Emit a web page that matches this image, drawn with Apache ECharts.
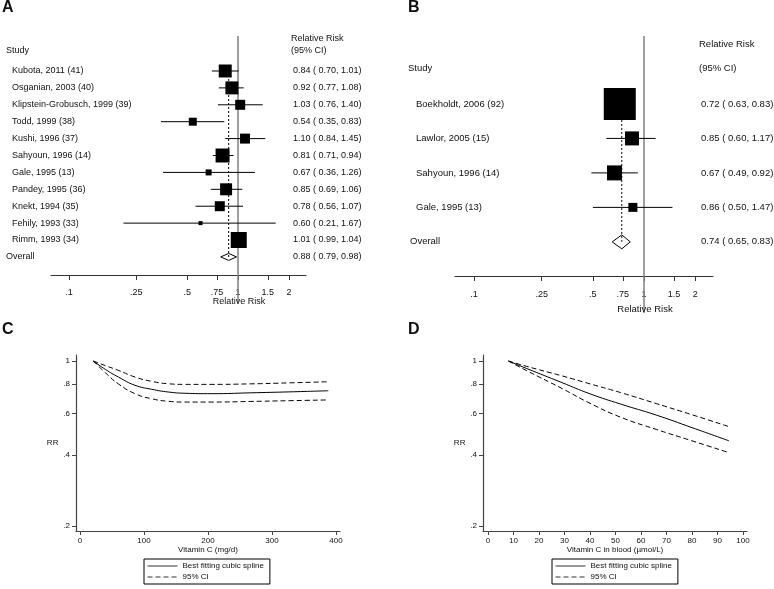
<!DOCTYPE html>
<html>
<head>
<meta charset="utf-8">
</head>
<body style="margin: 0; background: #fff">
<div id="container" style="width: 774px; height: 589px"></div>
<script src="https://cdn.jsdelivr.net/npm/echarts@6/dist/echarts.min.js"></script>
<script>
// A: dietary vitamin C, prospective studies
var studiesA = ['Kubota, 2011 (41)', 'Osganian, 2003 (40)', 'Klipstein-Grobusch, 1999 (39)', 'Todd, 1999 (38)',
    'Kushi, 1996 (37)', 'Sahyoun, 1996 (14)', 'Gale, 1995 (13)', 'Pandey, 1995 (36)', 'Knekt, 1994 (35)',
    'Fehily, 1993 (33)', 'Rimm, 1993 (34)'];
var rrA = [0.84, 0.92, 1.03, 0.54, 1.10, 0.81, 0.67, 0.85, 0.78, 0.60, 1.01];
var loA = [0.70, 0.77, 0.76, 0.35, 0.84, 0.71, 0.36, 0.69, 0.56, 0.21, 0.99];
var hiA = [1.01, 1.08, 1.40, 0.83, 1.45, 0.94, 1.26, 1.06, 1.07, 1.67, 1.04];
var weightA = [12.5, 12.5, 7.4, 4.7, 7.4, 14.5, 2.7, 10.7, 7.4, 1.2, 19.0];
var overallA = [0.88, 0.79, 0.98];

// B: circulating vitamin C
var studiesB = ['Boekholdt, 2006 (92)', 'Lawlor, 2005 (15)', 'Sahyoun, 1996 (14)', 'Gale, 1995 (13)'];
var rrB = [0.72, 0.85, 0.67, 0.86];
var loB = [0.63, 0.60, 0.49, 0.50];
var hiB = [0.83, 1.17, 0.92, 1.47];
var weightB = [67.1, 12.8, 14.7, 5.3];
var overallB = [0.74, 0.65, 0.83];

var rrTicks = [0.1, 0.25, 0.5, 0.75, 1, 1.5, 2];
var rrTickLabels = ['.1', '.25', '.5', '.75', '1', '1.5', '2'];

// C: dose response, intake
var doseC = [20.8, 40, 60, 86, 112, 138, 164, 206, 266, 328, 388];
var splineC = [1, 0.92, 0.855, 0.789, 0.759, 0.739, 0.730, 0.727, 0.733, 0.740, 0.748];
var upperC = [1, 0.955, 0.913, 0.855, 0.820, 0.801, 0.796, 0.796, 0.800, 0.808, 0.817];
var lowerC = [1, 0.89, 0.80, 0.727, 0.692, 0.675, 0.670, 0.670, 0.674, 0.679, 0.684];
var doseTicksC = [0, 100, 200, 300, 400];

// D: dose response, blood level
var doseD = [8, 15, 29, 40, 52, 66, 80, 94.5];
var splineD = [1, 0.931, 0.81, 0.726, 0.657, 0.59, 0.522, 0.459];
var upperD = [1, 0.95, 0.865, 0.80, 0.735, 0.66, 0.592, 0.527];
var lowerD = [1, 0.912, 0.765, 0.662, 0.578, 0.513, 0.459, 0.409];
var doseTicksD = [0, 10, 20, 30, 40, 50, 60, 70, 80, 90, 100];

var rrAxisTicks = [0.2, 0.4, 0.6, 0.8, 1];
var rrAxisLabels = ['.2', '.4', '.6', '.8', '1'];

var FONT = '"Liberation Sans", Arial, sans-serif';

function pickLabel(ticks, labels) {
    return function (v) {
        var best = 0;
        for (var i = 1; i < ticks.length; i++) {
            if (Math.abs(ticks[i] - v) < Math.abs(ticks[best] - v)) best = i;
        }
        return labels[best];
    };
}

function rrText(est, lo, hi) {
    return est.toFixed(2) + ' ( ' + lo.toFixed(2) + ', ' + hi.toFixed(2) + ')';
}

function txt(x, y, s, font, align) {
    return {type: 'text', x: x, y: y, silent: true,
        style: {text: s, font: font, fill: '#111', align: align || 'left', verticalAlign: 'middle',
            textAlign: align || 'left', textVerticalAlign: 'middle'}};
}

// builds the series of one forest plot
function forestSeries(p) {
    var n = p.names.length;
    var rows = p.names.map(function (name, i) {
        return [p.rr[i], i, p.lo[i], p.hi[i], p.w[i]];
    });
    var font = p.fontSize + 'px ' + FONT;
    return [
        {
            type: 'custom', xAxisIndex: p.axis, yAxisIndex: p.axis, clip: false, silent: true,
            data: [[1, p.lineTop, p.lineBottom]],
            renderItem: function (params, api) {
                var a = api.coord([1, api.value(1)]);
                var b = api.coord([1, api.value(2)]);
                return {type: 'group', children: [
                    {type: 'line', shape: {x1: a[0], y1: a[1], x2: b[0], y2: b[1]},
                        style: {stroke: '#808080', lineWidth: 1.5}},
                    txt(a[0] + 1, p.titleY, 'Relative Risk', font, 'center')
                ]};
            }
        },
        {
            type: 'custom', xAxisIndex: p.axis, yAxisIndex: p.axis, clip: false, silent: true,
            data: [[p.overall[0], n, p.overall[1], p.overall[2]]],
            renderItem: function (params, api) {
                var c = api.coord([api.value(0), api.value(1)]);
                var top = api.coord([api.value(0), 0]);
                var l = api.coord([api.value(2), api.value(1)]);
                var h = api.coord([api.value(3), api.value(1)]);
                var d = p.diamondH;
                return {type: 'group', children: [
                    {type: 'line', shape: {x1: top[0], y1: top[1], x2: c[0], y2: c[1]},
                        style: {stroke: '#000', lineWidth: 1, lineDash: [2, 2]}},
                    {type: 'polygon', shape: {points: [[l[0], c[1]], [c[0], c[1] - d], [h[0], c[1]], [c[0], c[1] + d]]},
                        style: {fill: 'rgba(255,255,255,0)', stroke: '#000', lineWidth: 1}},
                    txt(p.overallX, c[1], 'Overall', font),
                    txt(p.rrX, c[1], rrText(p.overall[0], p.overall[1], p.overall[2]), font)
                ]};
            }
        },
        {
            type: 'custom', xAxisIndex: p.axis, yAxisIndex: p.axis, clip: false, silent: true,
            data: rows,
            renderItem: function (params, api) {
                var i = api.value(1);
                var c = api.coord([api.value(0), i]);
                var l = api.coord([api.value(2), i]);
                var h = api.coord([api.value(3), i]);
                var s = Math.sqrt(api.value(4)) * p.boxScale;
                return {type: 'group', children: [
                    {type: 'line', shape: {x1: l[0], y1: l[1], x2: h[0], y2: h[1]},
                        style: {stroke: '#000', lineWidth: 1}},
                    {type: 'rect', shape: {x: c[0] - s / 2, y: c[1] - s / 2, width: s, height: s},
                        style: {fill: '#000'}},
                    txt(p.nameX, c[1], p.names[i], font),
                    txt(p.rrX, c[1], rrText(api.value(0), api.value(2), api.value(3)), font)
                ]};
            }
        }
    ];
}

function forestXAxis(grid, min, max, margin) {
    return {
        type: 'log', gridIndex: grid, min: min, max: max,
        axisLine: {show: true, onZero: false, lineStyle: {color: '#333', width: 1}},
        axisTick: {show: true, customValues: rrTicks, length: 5, lineStyle: {color: '#333'}},
        axisLabel: {customValues: rrTicks, margin: margin, fontSize: 9, color: '#111', fontFamily: FONT,
            formatter: pickLabel(rrTicks, rrTickLabels)},
        splitLine: {show: false}
    };
}

function doseXAxis(grid, min, max, ticks, name) {
    return {
        type: 'value', gridIndex: grid, min: min, max: max,
        name: name, nameLocation: 'middle', nameGap: 14,
        nameTextStyle: {fontSize: 8, color: '#111', fontFamily: FONT},
        axisLine: {show: true, onZero: false, lineStyle: {color: '#444', width: 1.2}},
        axisTick: {show: true, customValues: ticks, length: 4, lineStyle: {color: '#444'}},
        axisLabel: {customValues: ticks, margin: 6, fontSize: 8, color: '#111', fontFamily: FONT},
        splitLine: {show: false}
    };
}

function rrYAxis(grid) {
    return {
        type: 'log', gridIndex: grid, min: 0.1904, max: 1.0603,
        name: 'RR', nameLocation: 'middle', nameRotate: 0, nameGap: 17,
        nameTextStyle: {fontSize: 8, color: '#111', fontFamily: FONT},
        axisLine: {show: true, onZero: false, lineStyle: {color: '#444', width: 1.2}},
        axisTick: {show: true, customValues: rrAxisTicks, length: 4, lineStyle: {color: '#444'}},
        axisLabel: {customValues: rrAxisTicks, margin: 6, fontSize: 8, color: '#111', fontFamily: FONT,
            formatter: pickLabel(rrAxisTicks, rrAxisLabels)},
        splitLine: {show: false}
    };
}

function zip(xs, ys) {
    return xs.map(function (x, i) { return [x, ys[i]]; });
}

function curve(name, grid, xs, ys, dashed) {
    return {
        name: name, type: 'line', xAxisIndex: grid, yAxisIndex: grid,
        data: zip(xs, ys), smooth: 0.5, symbol: 'none', color: '#000',
        lineStyle: {color: '#000', width: 1, type: dashed ? [5, 3] : 'solid'},
        itemStyle: {color: '#000'}, silent: true
    };
}

function legendAt(left) {
    return {
        left: left, top: 559, orient: 'vertical', selectedMode: false,
        data: ['Best fitting cubic spline', '95% CI'],
        borderColor: '#000', borderWidth: 1, borderRadius: 0, padding: [3, 6, 3, 3],
        itemGap: 3, itemWidth: 30, itemHeight: 10,
        itemStyle: {opacity: 0},
        lineStyle: {width: 1, color: '#333'},
        textStyle: {fontSize: 8, color: '#111', fontFamily: FONT}
    };
}

var LETTER = 'bold 16px ' + FONT;
var HEAD_A = '9px ' + FONT;
var HEAD_B = '9.5px ' + FONT;

var myChart = echarts.init(document.getElementById('container'));
var option = {
    animation: false,
    backgroundColor: '#fff',
    textStyle: {fontFamily: FONT},
    grid: [
        {left: 51, top: 36, width: 255, height: 239, outerBoundsMode: 'none'},
        {left: 455, top: 36, width: 258, height: 240, outerBoundsMode: 'none'},
        {left: 76, top: 355, width: 264, height: 176, outerBoundsMode: 'none'},
        {left: 483, top: 355, width: 264, height: 176, outerBoundsMode: 'none'}
    ],
    xAxis: [
        forestXAxis(0, 0.0782, 2.525, 13),
        forestXAxis(1, 0.0772, 2.547, 14),
        doseXAxis(2, -6.25, 406.25, doseTicksC, 'Vitamin C (mg/d)'),
        doseXAxis(3, -1.96, 101.57, doseTicksD, 'Vitamin C in blood (\u00b5mol/L)')
    ],
    yAxis: [
        {type: 'value', gridIndex: 0, inverse: true, min: -2.07, max: 12.07, show: false},
        {type: 'value', gridIndex: 1, inverse: true, min: -1.97, max: 4.99, show: false},
        rrYAxis(2),
        rrYAxis(3)
    ],
    legend: [legendAt(144), legendAt(552)],
    graphic: [
        txt(2, 8, 'A', LETTER),
        txt(408, 8, 'B', LETTER),
        txt(2, 330, 'C', LETTER),
        txt(408, 330, 'D', LETTER),
        txt(6, 51, 'Study', HEAD_A),
        txt(291, 39, 'Relative Risk', HEAD_A),
        txt(291, 51, '(95% CI)', HEAD_A),
        txt(408, 68, 'Study', HEAD_B),
        txt(699, 44, 'Relative Risk', HEAD_B),
        txt(699, 68, '(95% CI)', HEAD_B)
    ],
    series: [].concat(
        forestSeries({axis: 0, names: studiesA, rr: rrA, lo: loA, hi: hiA, w: weightA, overall: overallA,
            boxScale: 3.67, fontSize: 9, nameX: 12, overallX: 6, rrX: 293, diamondH: 3.5,
            lineTop: -2.07, lineBottom: 13.73, titleY: 302}),
        forestSeries({axis: 1, names: studiesB, rr: rrB, lo: loB, hi: hiB, w: weightB, overall: overallB,
            boxScale: 3.91, fontSize: 9.5, nameX: 416, overallX: 410, rrX: 701, diamondH: 7,
            lineTop: -1.97, lineBottom: 6.06, titleY: 309}),
        [
            curve('Best fitting cubic spline', 2, doseC, splineC, false),
            curve('95% CI', 2, doseC, upperC, true),
            curve('95% CI', 2, doseC, lowerC, true),
            curve('Best fitting cubic spline', 3, doseD, splineD, false),
            curve('95% CI', 3, doseD, upperD, true),
            curve('95% CI', 3, doseD, lowerD, true)
        ]
    )
};
myChart.setOption(option);
</script>
</body>
</html>
